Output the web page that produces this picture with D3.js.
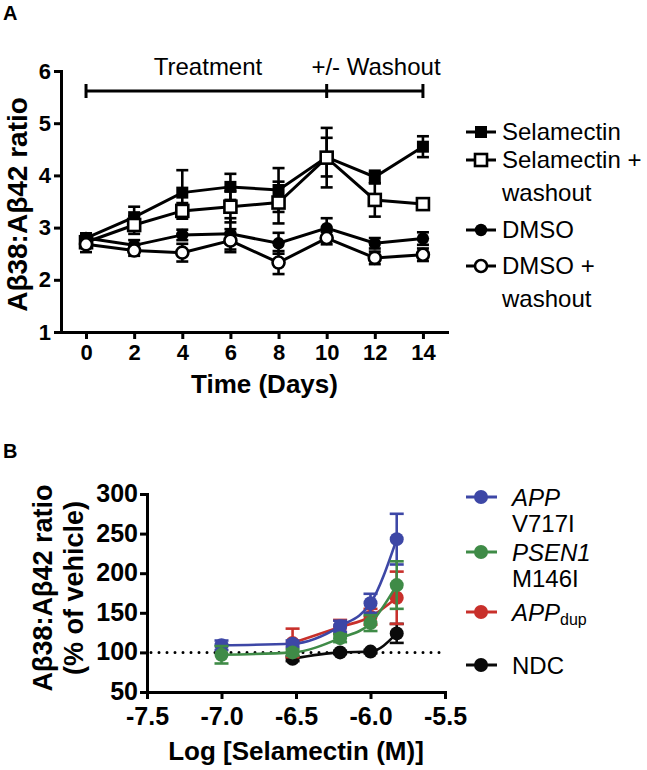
<!DOCTYPE html>
<html><head><meta charset="utf-8">
<script src="https://cdn.jsdelivr.net/npm/d3@7"></script>
<style>
body{margin:0;background:#fff}
svg text{font-family:"Liberation Sans",Arial,Helvetica,sans-serif}
</style>
</head><body>
<svg id="c" width="647" height="770"></svg>
<script>
// ---------- Panel A data ----------
const days = [0, 2, 4, 6, 8, 10, 12, 14];
const selamectin      = [2.80, 3.20, 3.67, 3.78, 3.72, 4.35, 3.97, 4.55];
const selamectinErr   = [0.08, 0.20, 0.43, 0.25, 0.42, 0.37, 0.12, 0.20];
const selWashout      = [2.72, 3.05, 3.32, 3.40, 3.48, 4.34, 3.53, 3.45];
const selWashoutErr   = [0.10, 0.17, 0.15, 0.30, 0.40, 0.57, 0.32, 0.10];
const dmso            = [2.80, 2.66, 2.86, 2.88, 2.70, 2.99, 2.70, 2.79];
const dmsoErr         = [0.08, 0.10, 0.10, 0.30, 0.20, 0.19, 0.10, 0.12];
const dmsoWashout     = [2.68, 2.56, 2.52, 2.75, 2.33, 2.80, 2.42, 2.48];
const dmsoWashoutErr  = [0.15, 0.10, 0.17, 0.22, 0.22, 0.12, 0.12, 0.12];
const seriesNamesA = ["Selamectin", "Selamectin +|washout", "DMSO", "DMSO +|washout"];
const yTicksA = [1, 2, 3, 4, 5, 6];
const xTicksA = [0, 2, 4, 6, 8, 10, 12, 14];
const phaseLabels = ["Treatment", "+/- Washout"];
const phaseBounds = [0, 10, 14];

// ---------- Panel B data ----------
const logConc = [-7.0, -6.523, -6.204, -6.0, -5.824];
const appV717I     = [109, 111, 133, 162, 243];
const appV717IErr  = [6, 4, 7, 12, 32];
const psen1        = [97, 100, 118, 137, 185];
const psen1Err     = [11, 4, 5, 10, 30];
const appDup       = [null, 112, 132, 145, 169];
const appDupErr    = [null, 18, 9, 10, 33];
const ndc          = [null, 92, 100, 101, 124];
const ndcErr       = [null, 3, 2, 2, 12];
const yTicksB = [50, 100, 150, 200, 250, 300];
const xTicksB = [-7.5, -7.0, -6.5, -6.0, -5.5];
const colorsB = {app: "#3d47a6", psen: "#3f8b47", dup: "#c8302b", ndc: "#0a0a0a"};

const svg = d3.select("#c");

function styleAxis(g, fs) {
  g.selectAll("path.domain").attr("stroke", "#000").attr("stroke-width", 3).attr("stroke-linecap", "square");
  g.selectAll(".tick line").attr("stroke", "#000").attr("stroke-width", 3);
  g.selectAll(".tick text").attr("font-size", fs).attr("font-weight", "bold").attr("fill", "#000")
    .attr("font-family", '"Liberation Sans",Arial,sans-serif');
}

// ================= PANEL A =================
const xA = d3.scaleLinear().domain([-1.04, 15]).range([61, 447]);
const yA = d3.scaleLinear().domain([1, 6]).range([332, 71]);

svg.append("text").attr("x", 3).attr("y", 20).attr("font-size", 20).attr("font-weight", "bold").text("A");

const gAx = svg.append("g").attr("transform", `translate(0,${yA(1)})`)
  .call(d3.axisBottom(xA).tickValues(xTicksA).tickSize(7).tickSizeOuter(0).tickPadding(5).tickFormat(d3.format("d")));
styleAxis(gAx, 22);
const gAy = svg.append("g").attr("transform", `translate(${xA.range()[0]},0)`)
  .call(d3.axisLeft(yA).tickValues(yTicksA).tickSize(7).tickSizeOuter(0).tickPadding(3).tickFormat(d3.format("d")));
styleAxis(gAy, 22);

svg.append("text").attr("transform", `translate(27,${(yA(1) + yA(6)) / 2 + 3}) rotate(-90)`)
  .attr("text-anchor", "middle").attr("font-size", 28).attr("font-weight", "bold").text("Aβ38:Aβ42 ratio");
svg.append("text").attr("x", (xA(0) + xA(14)) / 2 + 10).attr("y", 393)
  .attr("text-anchor", "middle").attr("font-size", 26).attr("font-weight", "bold").text("Time (Days)");

// phase bar
const barY = 91;
svg.append("line").attr("x1", xA(phaseBounds[0])).attr("x2", xA(phaseBounds[2]))
  .attr("y1", barY).attr("y2", barY).attr("stroke", "#000").attr("stroke-width", 3);
phaseBounds.forEach(b => {
  svg.append("line").attr("x1", xA(b)).attr("x2", xA(b)).attr("y1", barY - 7).attr("y2", barY + 7)
    .attr("stroke", "#000").attr("stroke-width", 3);
});
svg.append("text").attr("x", 208).attr("y", 75).attr("text-anchor", "middle").attr("font-size", 24).text(phaseLabels[0]);
svg.append("text").attr("x", 376).attr("y", 75).attr("text-anchor", "middle").attr("font-size", 24).text(phaseLabels[1]);

function drawMarker(g, type, cx, cy) {
  if (type === "fsq") g.append("rect").attr("x", cx - 6).attr("y", cy - 6).attr("width", 12).attr("height", 12).attr("fill", "#000");
  if (type === "osq") g.append("rect").attr("x", cx - 6).attr("y", cy - 6).attr("width", 12).attr("height", 12).attr("fill", "#fff").attr("stroke", "#000").attr("stroke-width", 2.6);
  if (type === "fci") g.append("circle").attr("cx", cx).attr("cy", cy).attr("r", 6.2).attr("fill", "#000");
  if (type === "oci") g.append("circle").attr("cx", cx).attr("cy", cy).attr("r", 6).attr("fill", "#fff").attr("stroke", "#000").attr("stroke-width", 2.6);
}

const seriesA = [
  {vals: selamectin, err: selamectinErr, m: "fsq"},
  {vals: selWashout, err: selWashoutErr, m: "osq"},
  {vals: dmso, err: dmsoErr, m: "fci"},
  {vals: dmsoWashout, err: dmsoWashoutErr, m: "oci"}
];
const lineA = d3.line().x(d => xA(d[0])).y(d => yA(d[1]));
seriesA.forEach(s => {
  const g = svg.append("g");
  days.forEach((d, i) => {
    const x = xA(d), y1 = yA(s.vals[i] - s.err[i]), y2 = yA(s.vals[i] + s.err[i]);
    g.append("line").attr("x1", x).attr("x2", x).attr("y1", y1).attr("y2", y2).attr("stroke", "#000").attr("stroke-width", 2.6);
    [y1, y2].forEach(yy => g.append("line").attr("x1", x - 6).attr("x2", x + 6).attr("y1", yy).attr("y2", yy).attr("stroke", "#000").attr("stroke-width", 2.6));
  });
  g.append("path").attr("d", lineA(days.map((d, i) => [d, s.vals[i]]))).attr("fill", "none").attr("stroke", "#000").attr("stroke-width", 3);
  days.forEach((d, i) => drawMarker(g, s.m, xA(d), yA(s.vals[i])));
});

// legend A
const legA = [
  {m: "fsq", y: 132}, {m: "osq", y: 160}, {m: "fci", y: 230}, {m: "oci", y: 266}
];
const legAlineH = 33;
legA.forEach((l, i) => {
  const g = svg.append("g");
  g.append("line").attr("x1", 466).attr("x2", 496).attr("y1", l.y).attr("y2", l.y).attr("stroke", "#000").attr("stroke-width", 3);
  drawMarker(g, l.m, 481, l.y);
  const lines = seriesNamesA[i].split("|");
  lines.forEach((t, j) => {
    g.append("text").attr("x", 502).attr("y", l.y + 8 + j * legAlineH).attr("font-size", 24).text(t);
  });
});

// ================= PANEL B =================
const xB = d3.scaleLinear().domain([-7.5, -5.5]).range([147, 445]);
const yB = d3.scaleLinear().domain([50, 300]).range([692, 494]);

svg.append("text").attr("x", 3).attr("y", 458).attr("font-size", 20).attr("font-weight", "bold").text("B");

const fmt1 = d => d.toFixed(1);
const gBx = svg.append("g").attr("transform", `translate(0,${yB(50)})`)
  .call(d3.axisBottom(xB).tickValues(xTicksB).tickSize(7).tickSizeOuter(0).tickPadding(8).tickFormat(fmt1));
styleAxis(gBx, 25);
const gBy = svg.append("g").attr("transform", `translate(${xB(-7.5)},0)`)
  .call(d3.axisLeft(yB).tickValues(yTicksB).tickSize(7).tickSizeOuter(0).tickPadding(2).tickFormat(d3.format("d")));
styleAxis(gBy, 25);
gBy.selectAll(".tick text").attr("dy", "0.3em");

svg.append("text").attr("transform", `translate(52,${(yB(50) + yB(300)) / 2 - 5}) rotate(-90)`)
  .attr("text-anchor", "middle").attr("font-size", 27).attr("font-weight", "bold").text("Aβ38:Aβ42 ratio");
svg.append("text").attr("transform", `translate(83,${(yB(50) + yB(300)) / 2 - 5}) rotate(-90)`)
  .attr("text-anchor", "middle").attr("font-size", 27).attr("font-weight", "bold").text("(% of vehicle)");
svg.append("text").attr("x", (xB(-7.5) + xB(-5.5)) / 2).attr("y", 760)
  .attr("text-anchor", "middle").attr("font-size", 26).attr("font-weight", "bold").text("Log [Selamectin (M)]");

// dotted line at 100
svg.append("line").attr("x1", xB(-7.5) + 4).attr("x2", xB(-5.5)).attr("y1", yB(100)).attr("y2", yB(100))
  .attr("stroke", "#000").attr("stroke-width", 3).attr("stroke-dasharray", "0 8").attr("stroke-linecap", "round");

const seriesB = [
  {vals: ndc, err: ndcErr, c: colorsB.ndc},
  {vals: appDup, err: appDupErr, c: colorsB.dup},
  {vals: appV717I, err: appV717IErr, c: colorsB.app},
  {vals: psen1, err: psen1Err, c: colorsB.psen}
];
const lineB = d3.line().curve(d3.curveMonotoneX).x(d => xB(d[0])).y(d => yB(d[1]));
seriesB.forEach(s => {
  const g = svg.append("g");
  const pts = logConc.map((x, i) => [x, s.vals[i], s.err[i]]).filter(p => p[1] != null);
  pts.forEach(p => {
    const x = xB(p[0]), y1 = yB(p[1] - p[2]), y2 = yB(p[1] + p[2]);
    g.append("line").attr("x1", x).attr("x2", x).attr("y1", y1).attr("y2", y2).attr("stroke", s.c).attr("stroke-width", 2.6);
    [y1, y2].forEach(yy => g.append("line").attr("x1", x - 7).attr("x2", x + 7).attr("y1", yy).attr("y2", yy).attr("stroke", s.c).attr("stroke-width", 2.6));
  });
  g.append("path").attr("d", lineB(pts)).attr("fill", "none").attr("stroke", s.c).attr("stroke-width", 2.6);
  pts.forEach(p => g.append("circle").attr("cx", xB(p[0])).attr("cy", yB(p[1])).attr("r", 7).attr("fill", s.c));
});

// legend B
const legB = [
  {c: colorsB.app, y: 497, it: "APP", sub: "", l2: "V717I"},
  {c: colorsB.psen, y: 552, it: "PSEN1", sub: "", l2: "M146I"},
  {c: colorsB.dup, y: 612, it: "APP", sub: "dup", l2: ""},
  {c: colorsB.ndc, y: 665, it: "", sub: "", l2: "", plain: "NDC"}
];
legB.forEach(l => {
  const g = svg.append("g");
  g.append("line").attr("x1", 466).attr("x2", 497).attr("y1", l.y).attr("y2", l.y).attr("stroke", l.c).attr("stroke-width", 3);
  g.append("circle").attr("cx", 481).attr("cy", l.y).attr("r", 7).attr("fill", l.c);
  const t = g.append("text").attr("x", 512).attr("y", l.y + 9).attr("font-size", 24);
  if (l.plain) t.text(l.plain);
  else {
    t.append("tspan").attr("font-style", "italic").text(l.it);
    if (l.sub) t.append("tspan").attr("font-size", 16).attr("dy", 4).text(l.sub);
  }
  if (l.l2) g.append("text").attr("x", 512).attr("y", l.y + 9 + 26).attr("font-size", 24).text(l.l2);
});
</script>
</body></html>
